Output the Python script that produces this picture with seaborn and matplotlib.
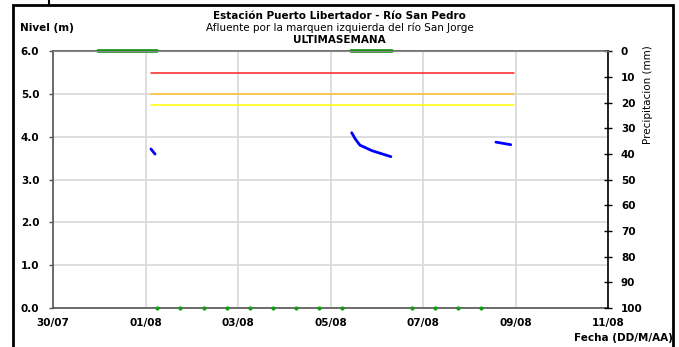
import pandas as pd
import numpy as np
import matplotlib
matplotlib.use("Agg")
import matplotlib.pyplot as plt
import matplotlib.dates as mdates
from matplotlib.patches import Rectangle
from matplotlib.lines import Line2D
import seaborn as sns

# nivel (m) - tramos con dato
nivel_t1 = ["2015-08-01 02:40", "2015-08-01 04:50"]
nivel_v1 = [3.72, 3.60]
nivel_t2 = ["2015-08-05 10:50", "2015-08-05 12:45", "2015-08-05 15:05", "2015-08-05 21:20", "2015-08-06 07:10"]
nivel_v2 = [4.10, 3.95, 3.81, 3.68, 3.54]
nivel_t3 = ["2015-08-08 13:40", "2015-08-08 21:20"]
nivel_v3 = [3.88, 3.82]

# umbrales
umbral_ini = "2015-08-01 02:40"
umbral_fin = "2015-08-08 23:00"
umbral_rojo = 5.5
umbral_naranja = 5.0
umbral_amarillo = 4.75

# precipitacion (mm)
precip_t1 = ["2015-07-30 23:25", "2015-08-01 05:40"]
precip_t2 = ["2015-08-05 10:40", "2015-08-06 07:55"]
precip_v = [0, 0]

# puntos sin dato (en 0.0)
sin_dato_t = ["2015-08-01 06:00", "2015-08-01 18:00", "2015-08-02 06:00", "2015-08-02 18:00",
              "2015-08-03 06:00", "2015-08-03 18:00", "2015-08-04 06:00", "2015-08-04 18:00",
              "2015-08-05 06:00", "2015-08-06 18:00", "2015-08-07 06:00", "2015-08-07 18:00",
              "2015-08-08 06:00"]

fecha_min = "2015-07-30"
fecha_max = "2015-08-11"

sns.set_style("white")
plt.rcParams['font.family'] = ['DejaVu Sans']
plt.rcParams['text.color'] = 'black'
plt.rcParams['xtick.color'] = 'black'
plt.rcParams['ytick.color'] = 'black'
plt.rcParams['axes.labelcolor'] = 'black'

fig = plt.figure(figsize=(6.79, 3.47), dpi=100)
ax = fig.add_axes([0.0784, 0.1124, 0.8176, 0.7392])
ax2 = ax.twinx()

# grid
ax.set_axisbelow(True)
ax.grid(True, color="#d8d8d8", linewidth=1.2)

# umbrales
for val, col in [(umbral_rojo, "#ff2020"), (umbral_naranja, "#ffc030"), (umbral_amarillo, "#ffff00")]:
    df_u = pd.DataFrame({"t": pd.to_datetime([umbral_ini, umbral_fin]), "v": [val, val]})
    sns.lineplot(data=df_u, x="t", y="v", ax=ax, color=col, linewidth=1.1)

# nivel
for tt, vv in [(nivel_t1, nivel_v1), (nivel_t2, nivel_v2), (nivel_t3, nivel_v3)]:
    df_n = pd.DataFrame({"t": pd.to_datetime(tt), "v": vv})
    sns.lineplot(data=df_n, x="t", y="v", ax=ax, color="#0000ff", linewidth=2.0, sort=True)

# puntos sin dato
df_s = pd.DataFrame({"t": pd.to_datetime(sin_dato_t), "v": np.zeros(len(sin_dato_t))})
sns.scatterplot(data=df_s, x="t", y="v", ax=ax, color="#10a010", s=9, linewidth=0, clip_on=False, zorder=5)

# precipitacion
for tt in [precip_t1, precip_t2]:
    df_p = pd.DataFrame({"t": pd.to_datetime(tt), "v": precip_v})
    sns.lineplot(data=df_p, x="t", y="v", ax=ax2, color="#109010", linewidth=2.6)
for l in ax2.get_lines():
    l.set_clip_on(False)

ax.set_xlim(pd.Timestamp(fecha_min), pd.Timestamp(fecha_max))
ax.set_ylim(0, 6)
ax.set_yticks(np.arange(0, 6.1, 1.0))
ax.set_yticklabels([f"{v:.1f}" for v in np.arange(0, 6.1, 1.0)])
ax.xaxis.set_major_locator(mdates.DayLocator(interval=2))
ax.xaxis.set_major_formatter(mdates.DateFormatter("%d/%m"))
ax.set_xlabel("")
ax.set_ylabel("")

ax2.set_ylim(100, 0)
ax2.set_yticks(np.arange(0, 101, 10))
ax2.set_ylabel("")

for s in ["left", "bottom", "top"]:
    ax.spines[s].set_color("#555555")
    ax.spines[s].set_linewidth(1.2)
ax.spines["right"].set_visible(False)
ax2.spines["left"].set_visible(False)
ax2.spines["bottom"].set_visible(False)
ax2.spines["top"].set_color("#888888")
ax2.spines["right"].set_color("black")
ax2.spines["right"].set_linewidth(1.2)

ax.tick_params(axis="y", left=True, length=3, width=1, color="#555555", labelcolor="black", labelsize=7.5, pad=7)
ax.tick_params(axis="x", bottom=False, labelcolor="black", labelsize=7.5, pad=4)
ax2.tick_params(axis="y", right=True, direction="inout", length=6, width=1, color="black", labelcolor="black",
                labelsize=7.5, pad=6)
for lab in ax.get_xticklabels() + ax.get_yticklabels() + ax2.get_yticklabels():
    lab.set_fontweight("bold")

fig.text(20 / 679, 1 - 28 / 347, "Nivel (m)", fontsize=7.5, fontweight="bold", va="center", ha="left")
fig.text(673 / 679, 1 - 338 / 347, "Fecha (DD/M/AA)", fontsize=7.5, fontweight="bold", va="center", ha="right")
fig.text(648 / 679, 1 - 45 / 347, "Precipitacion (mm)", fontsize=7.5, rotation=90, va="top", ha="center")

fig.text(0.5, 1 - 16 / 347, "Estación Puerto Libertador - Río San Pedro", fontsize=7.5, fontweight="bold", ha="center", va="center")
fig.text(0.5, 1 - 28 / 347, "Afluente por la marquen izquierda del río San Jorge", fontsize=7.5, ha="center", va="center")
fig.text(0.5, 1 - 40 / 347, "ULTIMASEMANA", fontsize=7.5, fontweight="bold", ha="center", va="center")

# marco
fig.patches.append(Rectangle((13 / 679, -0.1), 660 / 679, 1.1 - 5 / 347, transform=fig.transFigure,
                             fill=False, edgecolor="black", linewidth=2))
fig.lines.append(Line2D([49 / 679, 49 / 679], [1 - 5 / 347, 1.0], transform=fig.transFigure, color="black", linewidth=1.5))

fig.savefig("out.png", dpi=100)
